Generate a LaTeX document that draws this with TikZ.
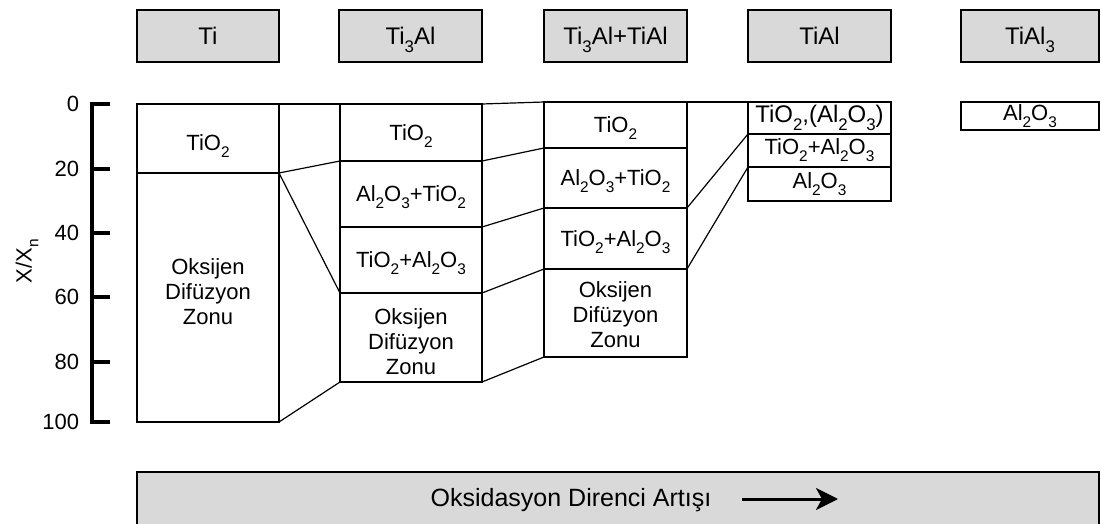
\documentclass[tikz,border=0pt]{standalone}
\usepackage{fontspec}
\setmainfont{Liberation Sans}
\usetikzlibrary{arrows.meta}
\definecolor{hdgray}{HTML}{D9D9D9}
% chemical subscript in text font
\newcommand{\chs}[1]{\raisebox{-0.31em}{\scalebox{0.7}{#1}}}

\begin{document}
\begin{tikzpicture}[x=1pt,y=-1pt,
  every node/.style={inner sep=0pt, outer sep=0pt},
  txt/.style={font=\fontsize{22}{25}\selectfont},
  capsmid/.style={text height=#1, text depth=0pt},
  capsmid/.default=15.8pt,
  head/.style={draw=black, line width=1.6pt, fill=hdgray, minimum height=52pt,
    font=\fontsize{24}{28}\selectfont, capsmid=17.2pt},
  cell/.style={draw=black, line width=1.6pt, align=center, txt},
  zone/.style={cell, label={[txt, align=center, yshift=#1]center:Oksijen\\Difüzyon\\Zonu}},
  link/.style={line width=1.2pt},
  axisline/.style={line width=4pt, line join=miter},
  axlabel/.style={anchor=east, txt}]
\useasboundingbox (0,0) rectangle (1101,524);
\clip (0,0) rectangle (1101,524);

% alloy headers
\node[head, minimum width=142pt] (h1) at (208,36) {Ti};
\node[head, minimum width=143pt] (h2) at (410.5,36) {Ti\chs{3}Al};
\node[head, minimum width=143pt] (h3) at (615.5,36) {Ti\chs{3}Al+TiAl};
\node[head, minimum width=143pt] (h4) at (819.5,36) {TiAl};
\node[head, minimum width=138pt] (h5) at (1030,36) {TiAl\chs{3}};

% depth axis
\draw[axisline] (110,104) -- (92,104) -- (92,422) -- (110,422);
\foreach \yy in {169,233,297,362} \draw[axisline] (92,\yy) -- (110,\yy);
\node[axlabel] (l0) at (79,104) {0};
\node[axlabel] (l20) at (79,169) {20};
\node[axlabel] (l40) at (79,233) {40};
\node[axlabel] (l60) at (79,297) {60};
\node[axlabel] (l80) at (79,362) {80};
\node[axlabel] (l100) at (79,422) {100};
\node[txt, rotate=90] (ylab) at (27,261) {X/X\chs{n}};

% Ti
\node[cell, capsmid=23.8pt, minimum width=142pt, minimum height=69pt] (ti1) at (208,138.5) {TiO\chs{2}};
\node[zone=5.5pt, minimum width=142pt, minimum height=249pt] (ti2) at (208,297.5) {};

% Ti3Al
\node[cell, capsmid, minimum width=142pt, minimum height=57pt] (a1) at (411,132.5) {TiO\chs{2}};
\node[cell, capsmid, minimum width=142pt, minimum height=66pt] (a2) at (411,194) {Al\chs{2}O\chs{3}+TiO\chs{2}};
\node[cell, capsmid, minimum width=142pt, minimum height=66pt] (a3) at (411,260) {TiO\chs{2}+Al\chs{2}O\chs{3}};
\node[zone=-4.5pt, minimum width=142pt, minimum height=89pt] (a4) at (411,337.5) {};

% Ti3Al+TiAl
\node[cell, capsmid, minimum width=143pt, minimum height=46pt] (b1) at (615.5,125) {TiO\chs{2}};
\node[cell, capsmid, minimum width=143pt, minimum height=60pt] (b2) at (615.5,178) {Al\chs{2}O\chs{3}+TiO\chs{2}};
\node[cell, capsmid, minimum width=143pt, minimum height=61pt] (b3) at (615.5,238.5) {TiO\chs{2}+Al\chs{2}O\chs{3}};
\node[zone=-2pt, minimum width=143pt, minimum height=88pt] (b4) at (615.5,313) {};

% TiAl
\node[cell, minimum width=143pt, minimum height=32pt, font=\fontsize{24}{28}\selectfont] (c1) at (819.5,118) {TiO\chs{2},(Al\chs{2}O\chs{3})};
\node[cell, minimum width=143pt, minimum height=33pt] (c2) at (819.5,150.5) {TiO\chs{2}+Al\chs{2}O\chs{3}};
\node[cell, minimum width=143pt, minimum height=34pt] (c3) at (819.5,184) {Al\chs{2}O\chs{3}};

% TiAl3
\node[cell, minimum width=138pt, minimum height=28pt] (d1) at (1030,116) {Al\chs{2}O\chs{3}};

% layer correspondences
\draw[link] (ti1.north east) -- (a1.north west);
\draw[link] (a1.north east) -- (b1.north west);
\draw[link] (b1.north east) -- (c1.north west);
\draw[link] (ti1.south east) -- (a1.south west);
\draw[link] (ti1.south east) -- (a3.south west);
\draw[link] (ti2.south east) -- (a4.south west);
\draw[link] (a1.south east) -- (b1.south west);
\draw[link] (a2.south east) -- (b2.south west);
\draw[link] (a3.south east) -- (b3.south west);
\draw[link] (a4.south east) -- (b4.south west);
\draw[link] (b2.south east) -- (c1.south west);
\draw[link] (b3.south east) -- (c2.south west);

% oxidation resistance bar
\node[draw=black, line width=1.6pt, fill=hdgray, minimum width=962pt, minimum height=80pt, anchor=north west] (bar) at (137,472) {};
\node[font=\fontsize{25}{30}\selectfont, capsmid=17.9pt] (bartext) at (571,498) {Oksidasyon Direnci Artışı};
\coordinate (arrS) at (742,499);
\coordinate (arrE) at (838,499);
\draw[line width=3pt, -{Stealth[length=22pt, width=22pt, inset=6pt]}] (arrS) -- (arrE);
\end{tikzpicture}
\end{document}
